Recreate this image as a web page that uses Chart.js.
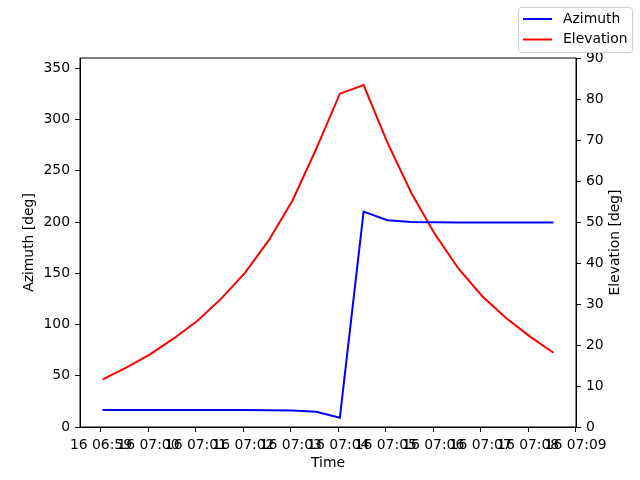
<!DOCTYPE html>
<html>
<head>
<meta charset="utf-8">
<script src="https://cdn.jsdelivr.net/npm/chart.js@4"></script>
<style>
  html, body { margin: 0; padding: 0; background: #fff; }
  #wrap { width: 640px; height: 480px; }
</style>
</head>
<body>
<div id="wrap"><canvas id="passChart" width="640" height="480"></canvas></div>
<script>
// sample times (every 30 s) and values
const times = [
  '06:59:02', '06:59:32', '07:00:02', '07:00:32', '07:01:02',
  '07:01:32', '07:02:02', '07:02:32', '07:03:02', '07:03:32',
  '07:04:02', '07:04:32', '07:05:02', '07:05:32', '07:06:02',
  '07:06:32', '07:07:02', '07:07:32', '07:08:02', '07:08:32'
];
const azimuth = [
  16.6, 16.6, 16.6, 16.6, 16.6, 16.5, 16.5, 16.4, 16.0, 14.9,
  9.1, 210.2, 201.7, 200.1, 199.8, 199.6, 199.5, 199.5, 199.5, 199.5
];
const elevation = [
  11.6, 14.5, 17.7, 21.6, 25.9, 31.3, 37.6, 45.5, 55.2, 67.8,
  81.3, 83.4, 69.4, 57.2, 47.1, 38.6, 31.9, 26.6, 22.1, 18.1
];
const tickTimes = [
  '06:59', '07:00', '07:01', '07:02', '07:03', '07:04',
  '07:05', '07:06', '07:07', '07:08', '07:09'
];
const tickLabels = tickTimes.map(t => '16 ' + t);

// seconds after 06:59:00
function toSec(t) {
  const p = t.split(':').map(Number);
  return (p[0] - 6) * 3600 + (p[1] - 59) * 60 + (p[2] || 0);
}
const xs = times.map(toSec);
const tickValues = tickTimes.map(toSec);

const FONT = { family: 'DejaVu Sans', size: 13.9 };
Chart.defaults.color = '#000';
Chart.defaults.font.family = FONT.family;
Chart.defaults.font.size = FONT.size;

function fixBox(prop, size) {
  return function (scale) {
    scale[prop] = size;
    scale.paddingLeft = scale.paddingRight = 0;
    scale.paddingTop = scale.paddingBottom = 0;
  };
}

const framePlugin = {
  id: 'frameAndLegend',
  afterDraw(chart) {
    const ctx = chart.ctx;
    const a = chart.chartArea;
    ctx.save();
    ctx.strokeStyle = '#000';
    ctx.lineWidth = 1;
    ctx.strokeRect(a.left, a.top, a.right - a.left, a.bottom - a.top);

    // right axis title reads bottom to top, like matplotlib
    const yEl = chart.scales.yEl;
    ctx.font = FONT.size + 'px ' + FONT.family;
    ctx.fillStyle = '#000';
    ctx.textAlign = 'center';
    ctx.textBaseline = 'middle';
    ctx.save();
    ctx.translate(615, (yEl.top + yEl.bottom) / 2);
    ctx.rotate(-Math.PI / 2);
    ctx.fillText(yEl.options.title.text, 0, 0);
    ctx.restore();

    // figure legend, upper right
    const bx = 518.5, by = 7.5, bw = 114, bh = 45, r = 3;
    ctx.fillStyle = 'rgba(255,255,255,0.8)';
    ctx.strokeStyle = '#d0d0d0';
    ctx.beginPath();
    ctx.roundRect(bx, by, bw, bh, r);
    ctx.fill();
    ctx.stroke();
    ctx.textAlign = 'left';
    chart.data.datasets.forEach((ds, i) => {
      const y = 19 + i * 20.5;
      ctx.strokeStyle = ds.borderColor;
      ctx.lineWidth = 2;
      ctx.beginPath();
      ctx.moveTo(523, y);
      ctx.lineTo(552, y);
      ctx.stroke();
      ctx.fillStyle = '#000';
      ctx.fillText(ds.label, 563, y);
    });
    ctx.restore();
  }
};

const tickGrid = { drawOnChartArea: false, drawTicks: true, tickLength: 5, color: '#000' };

new Chart(document.getElementById('passChart'), {
  type: 'line',
  data: {
    datasets: [
      {
        label: 'Azimuth',
        data: xs.map((x, i) => ({ x, y: azimuth[i] })),
        borderColor: '#0000ff',
        borderWidth: 2,
        pointRadius: 0,
        tension: 0,
        yAxisID: 'yAz'
      },
      {
        label: 'Elevation',
        data: xs.map((x, i) => ({ x, y: elevation[i] })),
        borderColor: '#ff0000',
        borderWidth: 2,
        pointRadius: 0,
        tension: 0,
        yAxisID: 'yEl'
      }
    ]
  },
  options: {
    responsive: false,
    animation: false,
    devicePixelRatio: 1,
    layout: { padding: { top: 58, left: 0, right: 0, bottom: 0 } },
    plugins: { legend: { display: false }, tooltip: { enabled: false } },
    scales: {
      x: {
        type: 'linear',
        min: -26.5,
        max: 600.5,
        afterBuildTicks: scale => { scale.ticks = tickValues.map(v => ({ value: v })); },
        afterFit: fixBox('height', 53),
        grid: tickGrid,
        border: { color: '#000', width: 1 },
        ticks: {
          autoSkip: false,
          maxRotation: 0,
          minRotation: 0,
          padding: 5,
          callback: (v, i) => tickLabels[i]
        },
        title: { display: true, text: 'Time', padding: { top: 0, bottom: 8 } }
      },
      yAz: {
        type: 'linear',
        position: 'left',
        min: 0,
        max: 360,
        afterFit: fixBox('width', 80),
        grid: tickGrid,
        border: { color: '#000', width: 1 },
        ticks: { stepSize: 50, includeBounds: false, padding: 5 },
        title: { display: true, text: 'Azimuth [deg]', padding: { top: 21, bottom: 0 } }
      },
      yEl: {
        type: 'linear',
        position: 'right',
        min: 0,
        max: 90,
        afterFit: fixBox('width', 64),
        grid: tickGrid,
        border: { color: '#000', width: 1 },
        ticks: { stepSize: 10, padding: 5 },
        title: { display: false, text: 'Elevation [deg]' }
      }
    }
  },
  plugins: [framePlugin]
});
</script>
</body>
</html>
